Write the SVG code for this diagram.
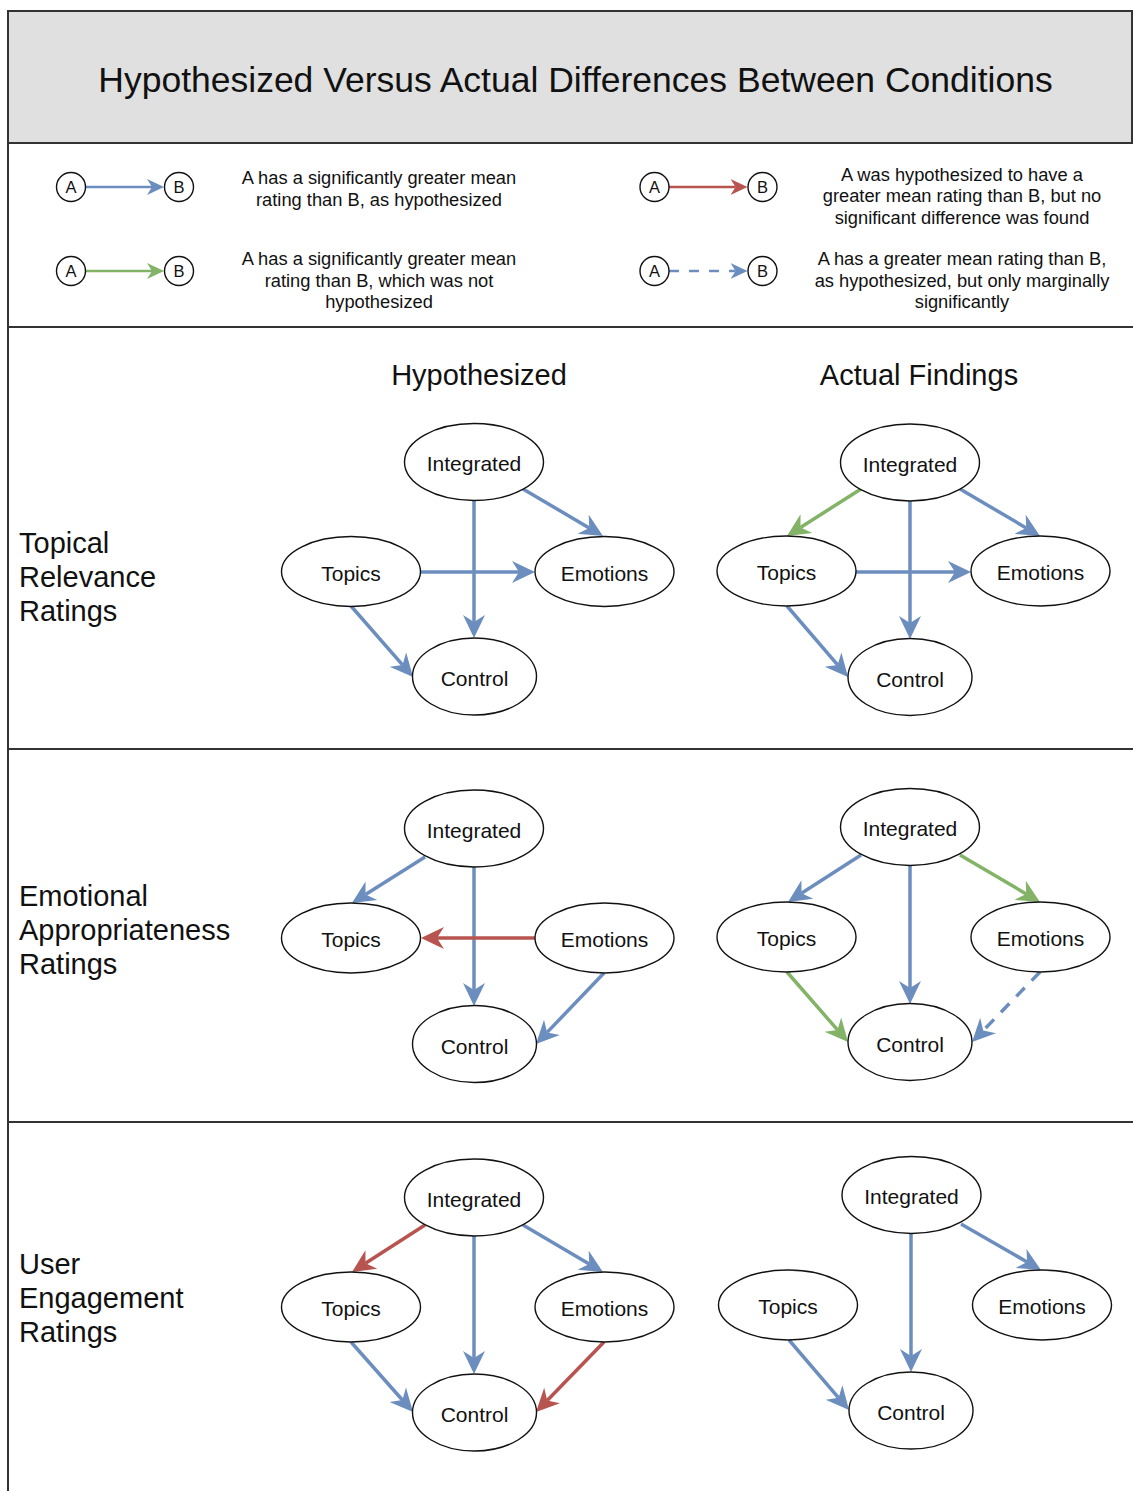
<svg xmlns="http://www.w3.org/2000/svg" width="1133" height="1491" viewBox="0 0 1133 1491">
  <style>
    .frame { stroke: #333; stroke-width: 2; fill: none; }
    .node { fill: #fff; stroke: #111; stroke-width: 1.4; }
    .lbl { font-family: "Liberation Sans", Arial, sans-serif; fill: #111; }
    .nt { font-size: 21px; text-anchor: middle; }
    .lt { font-size: 18.3px; text-anchor: middle; }
    .ct { font-size: 16.5px; text-anchor: middle; }
    .hd { font-size: 29px; }
    .edge { fill: none; stroke-width: 3.5; }
    .blue { stroke: #6c8ebf; marker-end: url(#ah-blue); }
    .red { stroke: #b85450; marker-end: url(#ah-red); }
    .green { stroke: #82b366; marker-end: url(#ah-green); }
    .dash { stroke-dasharray: 12 10; }
    .key { fill: none; stroke-width: 2.5; }
    .kblue { stroke: #6c8ebf; marker-end: url(#kh-blue); }
    .kred { stroke: #b85450; marker-end: url(#kh-red); }
    .kgreen { stroke: #82b366; marker-end: url(#kh-green); }
    .kdash { stroke-dasharray: 10 10; }
  </style>
  <defs>
    <marker id="ah-blue" viewBox="0 -12 23 24" markerWidth="23" markerHeight="24" markerUnits="userSpaceOnUse" refX="7" refY="0" orient="auto">
      <path d="M0,-11 L23,0 L0,11 L7,0 Z" fill="#6c8ebf"/>
    </marker>
    <marker id="ah-red" viewBox="0 -12 23 24" markerWidth="23" markerHeight="24" markerUnits="userSpaceOnUse" refX="7" refY="0" orient="auto">
      <path d="M0,-11 L23,0 L0,11 L7,0 Z" fill="#b85450"/>
    </marker>
    <marker id="ah-green" viewBox="0 -12 23 24" markerWidth="23" markerHeight="24" markerUnits="userSpaceOnUse" refX="7" refY="0" orient="auto">
      <path d="M0,-11 L23,0 L0,11 L7,0 Z" fill="#82b366"/>
    </marker>
    <marker id="kh-blue" viewBox="0 -9 17 18" markerWidth="17" markerHeight="18" markerUnits="userSpaceOnUse" refX="5" refY="0" orient="auto">
      <path d="M0,-8 L17,0 L0,8 L5,0 Z" fill="#6c8ebf"/>
    </marker>
    <marker id="kh-red" viewBox="0 -9 17 18" markerWidth="17" markerHeight="18" markerUnits="userSpaceOnUse" refX="5" refY="0" orient="auto">
      <path d="M0,-8 L17,0 L0,8 L5,0 Z" fill="#b85450"/>
    </marker>
    <marker id="kh-green" viewBox="0 -9 17 18" markerWidth="17" markerHeight="18" markerUnits="userSpaceOnUse" refX="5" refY="0" orient="auto">
      <path d="M0,-8 L17,0 L0,8 L5,0 Z" fill="#82b366"/>
    </marker>
  </defs>

  <rect width="1133" height="1491" fill="#fff"/>

  <!-- page frame and section rules -->
  <g id="frame">
    <rect x="8" y="11" width="1124" height="132" fill="#e0e0e0" stroke="#333" stroke-width="2"/>
    <line class="frame" x1="8" y1="11" x2="8" y2="1491"/>
    <line class="frame" x1="7" y1="327" x2="1133" y2="327"/>
    <line class="frame" x1="7" y1="749" x2="1133" y2="749"/>
    <line class="frame" x1="7" y1="1122" x2="1133" y2="1122"/>
    <text class="lbl" x="575.5" y="92" font-size="35.5" text-anchor="middle">Hypothesized Versus Actual Differences Between Conditions</text>
  </g>

  <!-- key -->
  <g id="legend">
    <g id="key-blue">
      <line class="key kblue" x1="85.5" y1="187" x2="152" y2="187"/>
      <circle class="node" cx="71" cy="187" r="14.5"/>
      <circle class="node" cx="179" cy="187" r="14.5"/>
      <text class="lbl ct" x="71" y="193">A</text>
      <text class="lbl ct" x="179" y="193">B</text>
      <text class="lbl lt" x="379" y="184">A has a significantly greater mean</text>
      <text class="lbl lt" x="379" y="206">rating than B, as hypothesized</text>
    </g>
    <g id="key-green">
      <line class="key kgreen" x1="85.5" y1="271" x2="152" y2="271"/>
      <circle class="node" cx="71" cy="271" r="14.5"/>
      <circle class="node" cx="179" cy="271" r="14.5"/>
      <text class="lbl ct" x="71" y="277">A</text>
      <text class="lbl ct" x="179" y="277">B</text>
      <text class="lbl lt" x="379" y="265">A has a significantly greater mean</text>
      <text class="lbl lt" x="379" y="287">rating than B, which was not</text>
      <text class="lbl lt" x="379" y="308">hypothesized</text>
    </g>
    <g id="key-red">
      <line class="key kred" x1="669" y1="187" x2="735.5" y2="187"/>
      <circle class="node" cx="654.5" cy="187" r="14.5"/>
      <circle class="node" cx="762.5" cy="187" r="14.5"/>
      <text class="lbl ct" x="654.5" y="193">A</text>
      <text class="lbl ct" x="762.5" y="193">B</text>
      <text class="lbl lt" x="962" y="181">A was hypothesized to have a</text>
      <text class="lbl lt" x="962" y="202">greater mean rating than B, but no</text>
      <text class="lbl lt" x="962" y="224">significant difference was found</text>
    </g>
    <g id="key-dashed">
      <line class="key kblue kdash" x1="669" y1="271" x2="735.5" y2="271"/>
      <circle class="node" cx="654.5" cy="271" r="14.5"/>
      <circle class="node" cx="762.5" cy="271" r="14.5"/>
      <text class="lbl ct" x="654.5" y="277">A</text>
      <text class="lbl ct" x="762.5" y="277">B</text>
      <text class="lbl lt" x="962" y="265">A has a greater mean rating than B,</text>
      <text class="lbl lt" x="962" y="287">as hypothesized, but only marginally</text>
      <text class="lbl lt" x="962" y="308">significantly</text>
    </g>
  </g>

  <!-- column and row headings -->
  <g id="headings">
    <text class="lbl hd" x="479" y="385" text-anchor="middle">Hypothesized</text>
    <text class="lbl hd" x="919" y="385" text-anchor="middle">Actual Findings</text>
    <text class="lbl hd" x="19" y="553">Topical</text>
    <text class="lbl hd" x="19" y="587">Relevance</text>
    <text class="lbl hd" x="19" y="621">Ratings</text>
    <text class="lbl hd" x="19" y="906">Emotional</text>
    <text class="lbl hd" x="19" y="940">Appropriateness</text>
    <text class="lbl hd" x="19" y="974">Ratings</text>
    <text class="lbl hd" x="19" y="1274">User</text>
    <text class="lbl hd" x="19" y="1308">Engagement</text>
    <text class="lbl hd" x="19" y="1342">Ratings</text>
  </g>

  <!-- connectors: each line stops short of its target; the marker tip reaches the outline -->
  <g id="connectors">
    <!-- topical relevance, hypothesized -->
    <line class="edge blue" x1="474" y1="500" x2="474" y2="622"/>
    <line class="edge blue" x1="523" y1="489" x2="589.2" y2="527.9"/>
    <line class="edge blue" x1="421" y1="572" x2="519" y2="572"/>
    <line class="edge blue" x1="351" y1="606" x2="402.5" y2="664.9"/>
    <!-- topical relevance, actual -->
    <line class="edge green" x1="861" y1="489" x2="800.5" y2="527.4"/>
    <line class="edge blue" x1="960" y1="489" x2="1026.2" y2="527.9"/>
    <line class="edge blue" x1="910" y1="501" x2="910" y2="623"/>
    <line class="edge blue" x1="856" y1="572" x2="955" y2="572"/>
    <line class="edge blue" x1="787" y1="606" x2="837.6" y2="664.9"/>
    <!-- emotional appropriateness, hypothesized -->
    <line class="edge blue" x1="425" y1="857" x2="365.5" y2="894.5"/>
    <line class="edge blue" x1="474" y1="867" x2="474" y2="990"/>
    <line class="edge red" x1="535" y1="938" x2="437" y2="938"/>
    <line class="edge blue" x1="604" y1="973" x2="547.1" y2="1032.4"/>
    <!-- emotional appropriateness, actual -->
    <line class="edge blue" x1="861" y1="855" x2="801.5" y2="893.3"/>
    <line class="edge green" x1="960" y1="855" x2="1026.2" y2="893.9"/>
    <line class="edge blue" x1="910" y1="866" x2="910" y2="988"/>
    <line class="edge green" x1="787" y1="972" x2="837.5" y2="1029.9"/>
    <line class="edge blue dash" x1="1040" y1="972" x2="983.2" y2="1030.5"/>
    <!-- user engagement, hypothesized -->
    <line class="edge red" x1="425" y1="1225" x2="365.5" y2="1263.3"/>
    <line class="edge blue" x1="523" y1="1225" x2="589.2" y2="1263.9"/>
    <line class="edge blue" x1="474" y1="1236" x2="474" y2="1358"/>
    <line class="edge blue" x1="351" y1="1342" x2="402.4" y2="1400"/>
    <line class="edge red" x1="604" y1="1342" x2="547.2" y2="1400.5"/>
    <!-- user engagement, actual -->
    <line class="edge blue" x1="961" y1="1224" x2="1027.1" y2="1262"/>
    <line class="edge blue" x1="911" y1="1233" x2="911" y2="1356"/>
    <line class="edge blue" x1="789" y1="1340" x2="838.6" y2="1397.8"/>
  </g>

  <!-- topical relevance, hypothesized -->
  <g id="r1h-integrated"><ellipse class="node" cx="474" cy="462" rx="69.5" ry="38.5"/><text class="lbl nt" x="474" y="471">Integrated</text></g>
  <g id="r1h-topics"><ellipse class="node" cx="351" cy="571.5" rx="69.5" ry="35"/><text class="lbl nt" x="351" y="580.5">Topics</text></g>
  <g id="r1h-emotions"><ellipse class="node" cx="604.5" cy="571.5" rx="69.5" ry="35"/><text class="lbl nt" x="604.5" y="580.5">Emotions</text></g>
  <g id="r1h-control"><ellipse class="node" cx="474.5" cy="676.5" rx="62" ry="38.5"/><text class="lbl nt" x="474.5" y="686">Control</text></g>

  <!-- topical relevance, actual -->
  <g id="r1a-integrated"><ellipse class="node" cx="910" cy="462.5" rx="69.5" ry="38.5"/><text class="lbl nt" x="910" y="471.5">Integrated</text></g>
  <g id="r1a-topics"><ellipse class="node" cx="786.5" cy="571" rx="69.5" ry="35"/><text class="lbl nt" x="786.5" y="580">Topics</text></g>
  <g id="r1a-emotions"><ellipse class="node" cx="1040.5" cy="571" rx="69.5" ry="35"/><text class="lbl nt" x="1040.5" y="580">Emotions</text></g>
  <g id="r1a-control"><ellipse class="node" cx="910" cy="677" rx="62" ry="38.5"/><text class="lbl nt" x="910" y="686.5">Control</text></g>

  <!-- emotional appropriateness, hypothesized -->
  <g id="r2h-integrated"><ellipse class="node" cx="474" cy="828.5" rx="69.5" ry="38.5"/><text class="lbl nt" x="474" y="837.5">Integrated</text></g>
  <g id="r2h-topics"><ellipse class="node" cx="351" cy="938" rx="69.5" ry="35"/><text class="lbl nt" x="351" y="947">Topics</text></g>
  <g id="r2h-emotions"><ellipse class="node" cx="604.5" cy="938" rx="69.5" ry="35"/><text class="lbl nt" x="604.5" y="947">Emotions</text></g>
  <g id="r2h-control"><ellipse class="node" cx="474.5" cy="1044" rx="62" ry="38.5"/><text class="lbl nt" x="474.5" y="1053.5">Control</text></g>

  <!-- emotional appropriateness, actual -->
  <g id="r2a-integrated"><ellipse class="node" cx="910" cy="827" rx="69.5" ry="38.5"/><text class="lbl nt" x="910" y="836">Integrated</text></g>
  <g id="r2a-topics"><ellipse class="node" cx="786.5" cy="937" rx="69.5" ry="35"/><text class="lbl nt" x="786.5" y="946">Topics</text></g>
  <g id="r2a-emotions"><ellipse class="node" cx="1040.5" cy="937" rx="69.5" ry="35"/><text class="lbl nt" x="1040.5" y="946">Emotions</text></g>
  <g id="r2a-control"><ellipse class="node" cx="910" cy="1042" rx="62" ry="38.5"/><text class="lbl nt" x="910" y="1051.5">Control</text></g>

  <!-- user engagement, hypothesized -->
  <g id="r3h-integrated"><ellipse class="node" cx="474" cy="1197.5" rx="69.5" ry="38.5"/><text class="lbl nt" x="474" y="1206.5">Integrated</text></g>
  <g id="r3h-topics"><ellipse class="node" cx="351" cy="1307" rx="69.5" ry="35"/><text class="lbl nt" x="351" y="1316">Topics</text></g>
  <g id="r3h-emotions"><ellipse class="node" cx="604.5" cy="1307" rx="69.5" ry="35"/><text class="lbl nt" x="604.5" y="1316">Emotions</text></g>
  <g id="r3h-control"><ellipse class="node" cx="474.5" cy="1412.5" rx="62" ry="38.5"/><text class="lbl nt" x="474.5" y="1422">Control</text></g>

  <!-- user engagement, actual -->
  <g id="r3a-integrated"><ellipse class="node" cx="911.5" cy="1195" rx="69.5" ry="38.5"/><text class="lbl nt" x="911.5" y="1204">Integrated</text></g>
  <g id="r3a-topics"><ellipse class="node" cx="788" cy="1305" rx="69.5" ry="35"/><text class="lbl nt" x="788" y="1314">Topics</text></g>
  <g id="r3a-emotions"><ellipse class="node" cx="1042" cy="1305" rx="69.5" ry="35"/><text class="lbl nt" x="1042" y="1314">Emotions</text></g>
  <g id="r3a-control"><ellipse class="node" cx="911" cy="1410.5" rx="62" ry="38.5"/><text class="lbl nt" x="911" y="1420">Control</text></g>
</svg>
